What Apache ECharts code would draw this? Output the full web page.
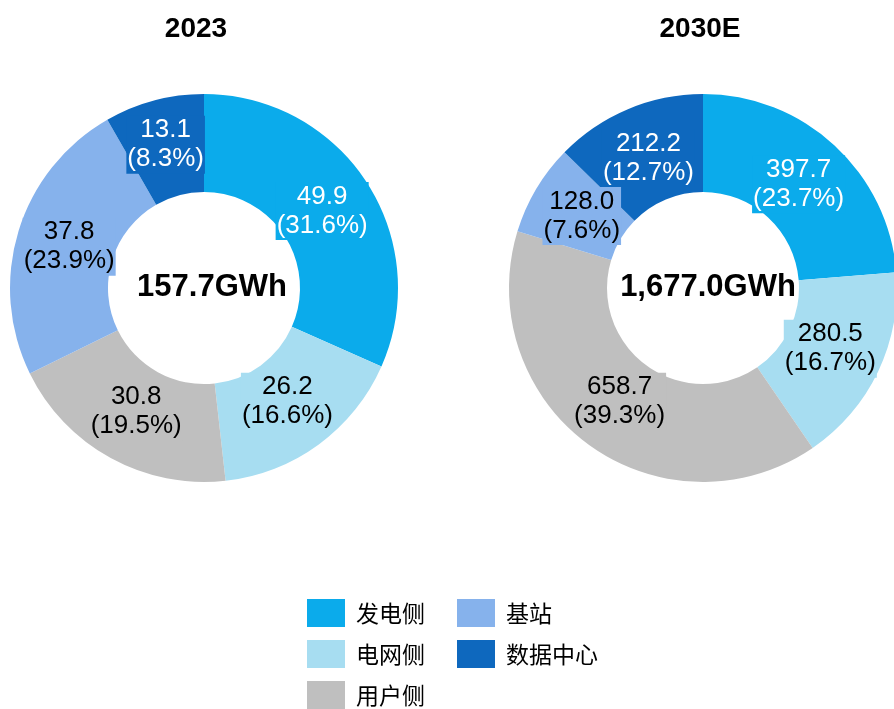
<!DOCTYPE html>
<html><head><meta charset="utf-8">
<script src="https://cdn.jsdelivr.net/npm/echarts@6/dist/echarts.min.js"></script>
<style>html,body{margin:0;padding:0;background:#fff}#c{width:894px;height:709px}</style>
</head><body><div id="c"></div>
<script>
const categories = ['发电侧', '电网侧', '用户侧', '基站', '数据中心'];
const colors = ['#0BABEB', '#A7DDF1', '#BFBFBF', '#86B2EC', '#0E68BE'];
const labelColors = ['#fff', '#000', '#000', '#000', '#fff'];
const years = ['2023', '2030E'];
const values2023 = [49.9, 26.2, 30.8, 37.8, 13.1];
const pct2023 = ['31.6%', '16.6%', '19.5%', '23.9%', '8.3%'];
const values2030 = [397.7, 280.5, 658.7, 128.0, 212.2];
const pct2030 = ['23.7%', '16.7%', '39.3%', '7.6%', '12.7%'];
const totals = ['157.7GWh', '1,677.0GWh'];

const chart = echarts.init(document.getElementById('c'), null, {renderer: 'canvas'});
const font = "Arial, 'Liberation Sans', sans-serif";

function makeData(vals, pcts, withLabel, offsets) {
  return vals.map((v, i) => ({
    name: categories[i],
    value: v,
    pct: pcts[i],
    itemStyle: {color: withLabel ? 'rgba(0,0,0,0)' : colors[i]},
    label: {color: labelColors[i], backgroundColor: colors[i], offset: (offsets && offsets[i]) || [0, 0]}
  }));
}

function makeRing(vals, pcts, cx) {
  return {
    type: 'pie',
    center: [cx, 288],
    radius: [96, 194],
    startAngle: 90,
    clockwise: true,
    silent: true,
    animation: false,
    itemStyle: {borderWidth: 0},
    label: {show: false},
    labelLine: {show: false},
    emphasis: {disabled: true},
    data: makeData(vals, pcts, false)
  };
}

function makeLabels(vals, pcts, cx, offsets) {
  return {
    type: 'pie',
    center: [cx, 288],
    radius: [96, 180],
    startAngle: 90,
    clockwise: true,
    avoidLabelOverlap: false,
    silent: true,
    animation: false,
    z: 3,
    itemStyle: {borderWidth: 0},
    label: {
      show: true,
      position: 'inside',
      fontFamily: font,
      fontSize: 26,
      lineHeight: 29,
      padding: [0, 1],
      formatter: p => p.value.toFixed(1) + '\n(' + p.data.pct + ')'
    },
    labelLine: {show: false},
    emphasis: {disabled: true},
    data: makeData(vals, pcts, true, offsets)
  };
}

const titleStyle = {fontFamily: font, fontSize: 28, fontWeight: 'bold', color: '#000'};
const centerStyle = {fontFamily: font, fontSize: 31, fontWeight: 'bold', color: '#000'};
const legendText = {fontFamily: "'Noto Sans CJK SC', sans-serif", fontSize: 23, color: '#000', padding: [0, 0, 0, 6]};

chart.setOption({
  backgroundColor: '#fff',
  animation: false,
  title: [
    {text: years[0], left: 196, top: 15, padding: 0, textAlign: 'center', textStyle: titleStyle},
    {text: years[1], left: 700, top: 15, padding: 0, textAlign: 'center', textStyle: titleStyle},
    {text: totals[0], left: 212, top: 272, padding: 0, textAlign: 'center', textStyle: centerStyle, z: 10},
    {text: totals[1], left: 708, top: 272, padding: 0, textAlign: 'center', textStyle: centerStyle, z: 10}
  ],
  legend: [
    {
      orient: 'vertical', left: 307, top: 599, height: 140, padding: 0,
      itemWidth: 38, itemHeight: 28, itemGap: 13,
      icon: 'rect',
      data: categories.slice(0, 3),
      textStyle: legendText,
      selectedMode: false
    },
    {
      orient: 'vertical', left: 457, top: 599, height: 140, padding: 0,
      itemWidth: 38, itemHeight: 28, itemGap: 13,
      icon: 'rect',
      data: categories.slice(3),
      textStyle: legendText,
      selectedMode: false
    }
  ],
  series: [
    makeRing(values2023, pct2023, 204),
    makeRing(values2030, pct2030, 703),
    makeLabels(values2023, pct2023, 204, [null, null, null, null, [-2, -7]]),
    makeLabels(values2030, pct2030, 703)
  ]
});
</script></body></html>
